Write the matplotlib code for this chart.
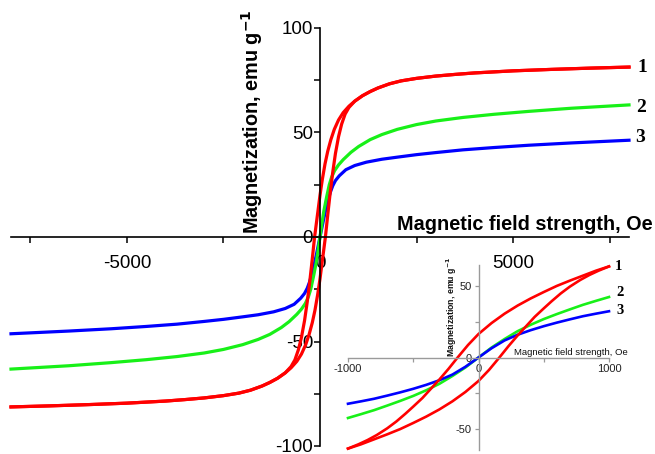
import numpy as np
import matplotlib
matplotlib.use("Agg")
import matplotlib.pyplot as plt

plt.rcParams["font.family"] = ["Liberation Sans", "DejaVu Sans"]

# ---- main loop, values (Oe, emu/g)
# red (1): descending branch; ascending branch is its point mirror
red_h = [8000, 7000, 6000, 5000, 4000, 3500, 3000, 2500, 2100, 1800, 1500, 1300, 1100, 900, 750, 600,
         480, 370, 280, 200, 130, 60, 0, -70, -140, -200, -260, -330, -400, -480, -560, -650, -750,
         -900, -1100, -1300, -1500, -1800, -2100, -2500, -3000, -3500, -4000, -5000, -6000, -7000, -8000]
red_m = [81.3, 80.8, 80.2, 79.5, 78.5, 77.8, 77.0, 75.9, 74.7, 73.3, 71.3, 69.6, 67.6, 65.0, 62.6, 59.5,
         56.0, 51.5, 46.5, 41.0, 35.0, 27.5, 20.0, 10.0, 0.0, -10.5, -20.5, -31.0, -40.0, -48.0, -54.0,
         -58.8, -62.0, -65.0, -67.6, -69.6, -71.3, -73.3, -74.7, -75.9, -77.0, -77.8, -78.5, -79.5,
         -80.2, -80.8, -81.3]
# green (2) and blue (3): positive half, curves are odd
green_h = [0, 50, 100, 170, 240, 300, 380, 480, 600, 800, 1000, 1300, 1600, 2000, 2500, 3000, 3700,
           4500, 5400, 6500, 8000]
green_m = [0, 6.5, 12.5, 19, 25, 28.6, 31.8, 34.5, 37.0, 40.5, 43.3, 46.6, 49, 51.5, 53.8, 55.5, 57.2,
           58.7, 60.1, 61.6, 63.2]
blue_h = [0, 50, 100, 150, 200, 270, 330, 400, 500, 670, 900, 1200, 1600, 2000, 2500, 3000, 3700,
          4500, 5400, 6500, 8000]
blue_m = [0, 4.5, 9, 13.2, 17, 21.5, 24.5, 27, 29.3, 32.2, 34.2, 35.8, 37.2, 38.2, 39.4, 40.4, 41.7,
          42.8, 43.9, 45, 46.3]

# ---- inset (low field)
ired_h = [1000, 900, 800, 700, 600, 500, 400, 300, 200, 100, 0, -80, -160, -230, -300, -370, -430,
          -500, -560, -630, -700, -780, -850, -920, -1000]
ired_m = [64, 61, 57.5, 54, 50.3, 46, 41.5, 36.5, 30.8, 24.2, 16.5, 8.8, 0, -8, -15.5, -22.5, -28.5,
          -34.5, -39.5, -45, -49.8, -54.5, -58, -61, -64]
igreen_h = [0, 100, 200, 300, 400, 500, 600, 700, 800, 900, 1000]
igreen_m = [0, 7, 13, 18.5, 23, 27, 30.5, 33.8, 37, 39.8, 42.5]
iblue_h = [0, 100, 200, 300, 400, 500, 600, 700, 800, 900, 1000]
iblue_m = [0, 6.5, 12, 16, 19.2, 22, 24.5, 26.8, 29, 30.8, 32.5]

RED, GREEN, BLUE = "#ff0000", "#18f018", "#0000ff"


def odd(h, m):
    h = np.asarray(h, float)
    m = np.asarray(m, float)
    return np.concatenate([-h[::-1], h[1:]]), np.concatenate([-m[::-1], m[1:]])


W, H = 655, 454
fig = plt.figure(figsize=(W / 100, H / 100), dpi=100)

# ---- main axes
ax = fig.add_axes([11 / W, 8 / H, 618 / W, 418 / H])
ax.set_xlim(-8000, 8000)
ax.set_ylim(-100, 100)
for sp in ["top", "right"]:
    ax.spines[sp].set_visible(False)
ax.spines["left"].set_position(("data", 0))
ax.spines["bottom"].set_position(("data", 0))
for sp in ["left", "bottom"]:
    ax.spines[sp].set_linewidth(1.2)
ax.patch.set_alpha(0)

rh = np.asarray(red_h, float)
rm = np.asarray(red_m, float)
gh, gm = odd(green_h, green_m)
bh, bm = odd(blue_h, blue_m)
kw = dict(lw=2.3, clip_on=False, solid_joinstyle="round")
ax.plot(bh, bm, color=BLUE, **kw)
ax.plot(gh, gm, color=GREEN, **kw)
ax.plot(rh, rm, color=RED, **kw)
ax.plot(-rh, -rm, color=RED, **kw)

ax.set_xticks([-5000, 0, 5000])
ax.set_xticks([-7500, -2500, 2500, 7500], minor=True)
ax.set_yticks([-100, -50, 0, 50, 100])
ax.set_yticks([-75, -25, 25, 75], minor=True)
ax.set_yticklabels(["-100", "-50", "0", "50", "100"])
ax.set_xticklabels(["-5000", "0", "5000"])
ax.tick_params(axis="x", which="both", direction="out", length=4.5, width=1.1, labelsize=13.5, pad=8.5)
ax.tick_params(axis="y", which="both", direction="out", length=4.5, width=1.1, labelsize=13.5, pad=0.5)

fig.text(252 / W, 1 - 122 / H, r"Magnetization, emu g$^{\mathbf{-1}}$", rotation=90,
         ha="center", va="center", fontsize=14.3, fontweight="bold")
fig.text(525 / W, 1 - 230 / H, "Magnetic field strength, Oe", ha="center", va="baseline",
         fontsize=14.3, fontweight="bold")

for lab, (px, py) in zip(["1", "2", "3"], [(642, 68), (641, 107), (640, 138)]):
    fig.text(px / W, 1 - py / H, lab, ha="center", va="center", fontsize=14,
             fontweight="bold", family="Liberation Serif")

# ---- inset axes
ins = fig.add_axes([348 / W, 4 / H, 261 / W, 185 / H])
ins.set_facecolor("none")
ins.set_xlim(-1000, 1000)
ins.set_ylim(-65, 65)
for sp in ["top", "right"]:
    ins.spines[sp].set_visible(False)
ins.spines["left"].set_position(("data", 0))
ins.spines["bottom"].set_position(("data", 0))
for sp in ["left", "bottom"]:
    ins.spines[sp].set_color("#9a9a9a")
    ins.spines[sp].set_linewidth(1.0)

igh, igm = odd(igreen_h, igreen_m)
ibh, ibm = odd(iblue_h, iblue_m)
irh = np.asarray(ired_h, float)
irm = np.asarray(ired_m, float)
kw_i = dict(lw=1.9, clip_on=False, solid_joinstyle="round")
ins.plot(igh, igm, color=GREEN, **kw_i)
ins.plot(ibh, ibm, color=BLUE, **kw_i)
ins.plot(irh, irm, color=RED, **kw_i)
ins.plot(-irh, -irm, color=RED, **kw_i)

ins.set_xticks([-1000, 0, 1000])
ins.set_xticks([-500, 500], minor=True)
ins.set_yticks([-50, 0, 50])
ins.set_yticks([-25, 25], minor=True)
ins.set_xticklabels(["-1000", "0", "1000"])
ins.set_yticklabels(["-50", "0", "50"])
ins.tick_params(axis="both", which="both", direction="out", length=3, width=0.9,
                color="#9a9a9a", labelsize=8, labelcolor="#222222")
ins.tick_params(axis="x", pad=1.5)
ins.tick_params(axis="y", pad=2)

fig.text(452 / W, 1 - 307 / H, r"Magnetization, emu g$^{\mathbf{-1}}$", rotation=90,
         ha="center", va="center", fontsize=6.3, fontweight="bold", color="#111111")
fig.text(571 / W, 1 - 355 / H, "Magnetic field strength, Oe", ha="center", va="baseline",
         fontsize=6.8, color="#111111")
for lab, (px, py) in zip(["1", "2", "3"], [(618, 266), (620, 293), (620, 310)]):
    fig.text(px / W, 1 - py / H, lab, ha="center", va="center", fontsize=10.5,
             fontweight="bold", family="Liberation Serif")

fig.savefig("out.png", dpi=100)
